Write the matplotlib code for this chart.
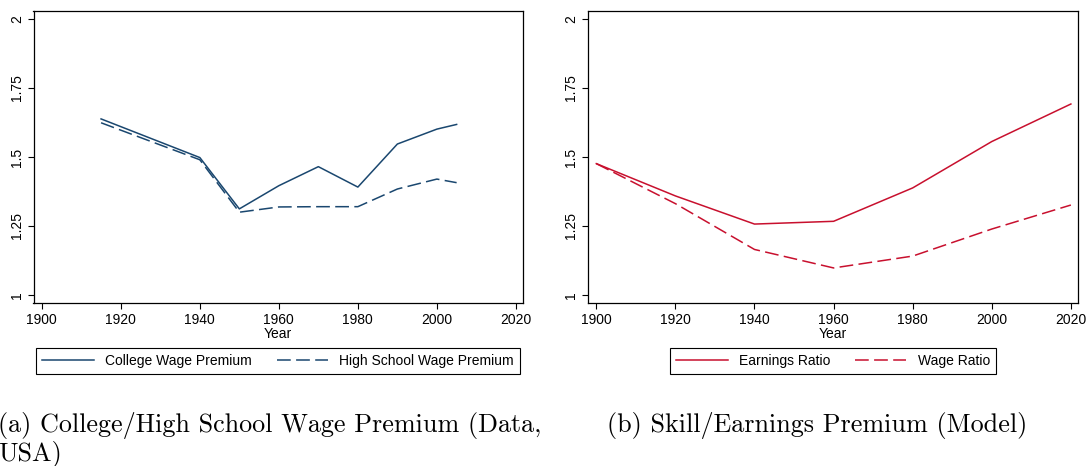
import numpy as np
import matplotlib
matplotlib.use("Agg")
import matplotlib.pyplot as plt

# data
years_a = [1915, 1940, 1950, 1960, 1970, 1980, 1990, 2000, 2005]
college = [1.638, 1.498, 1.312, 1.396, 1.465, 1.391, 1.547, 1.601, 1.618]
highschool = [1.624, 1.490, 1.300, 1.319, 1.320, 1.320, 1.384, 1.420, 1.407]

years_b = [1900, 1920, 1940, 1960, 1980, 2000, 2020]
earnings = [1.476, 1.359, 1.257, 1.267, 1.388, 1.556, 1.692]
wage = [1.476, 1.331, 1.165, 1.098, 1.141, 1.239, 1.326]

xticks = [1900, 1920, 1940, 1960, 1980, 2000, 2020]
yticks = [1, 1.25, 1.5, 1.75, 2]
ylabels = ["1", "1.25", "1.5", "1.75", "2"]

navy = "#1a476f"
red = "#c8102e"

plt.rcParams["font.family"] = ["Liberation Sans", "DejaVu Sans"]

W, H = 1086, 466
fig = plt.figure(figsize=(W / 100, H / 100), dpi=100)


def px_axes(x0, x1, ytop, ybot):
    return fig.add_axes([x0 / W, 1 - ybot / H, (x1 - x0) / W, (ybot - ytop) / H])


def style(ax):
    ax.set_xlim(1897.9, 2021.8)
    ax.set_ylim(0.971, 2.029)
    ax.set_xticks(xticks)
    ax.set_yticks(yticks)
    ax.set_yticklabels(ylabels, rotation=90, va="center")
    ax.tick_params(direction="out", length=4, width=0.8, labelsize=10, pad=3)
    ax.set_xlabel("Year", fontsize=10, labelpad=0)
    for s in ax.spines.values():
        s.set_linewidth(0.9)


ax1 = px_axes(33.5, 523, 11, 303)
ax1.plot(years_a, college, color=navy, lw=1.1, label="College Wage Premium")
ax1.plot(years_a, highschool, color=navy, lw=1.1, dashes=(9, 3.5), label="High School Wage Premium")
style(ax1)

ax2 = px_axes(588, 1078, 11, 303)
ax2.plot(years_b, earnings, color=red, lw=1.1, label="Earnings Ratio")
ax2.plot(years_b, wage, color=red, lw=1.1, dashes=(9, 3.5), label="Wage Ratio")
style(ax2)

leg_y = 1 - 361 / H
for ax, cx in [(ax1, 278 / W), (ax2, 833 / W)]:
    leg = ax.legend(loc="center", bbox_to_anchor=(cx, leg_y), bbox_transform=fig.transFigure,
                    ncol=2, fontsize=10, frameon=True, fancybox=False, edgecolor="black",
                    framealpha=1, handlelength=3.7, columnspacing=1.8, handletextpad=0.8,
                    borderpad=0.45, borderaxespad=0)
    leg.get_frame().set_linewidth(0.8)

# captions, wrapped like the reference (left edge slightly cut as in the source)
cap = dict(fontsize=18.8, family="cmr10", va="baseline", ha="left")
fig.text(-2 / W, 1 - 432 / H, "(a) College/High School Wage Premium (Data,", **cap)
fig.text(-2 / W, 1 - 460 / H, "USA)", **cap)
fig.text(607 / W, 1 - 432 / H, "(b) Skill/Earnings Premium (Model)", **cap)

fig.savefig("out.png", dpi=100)
